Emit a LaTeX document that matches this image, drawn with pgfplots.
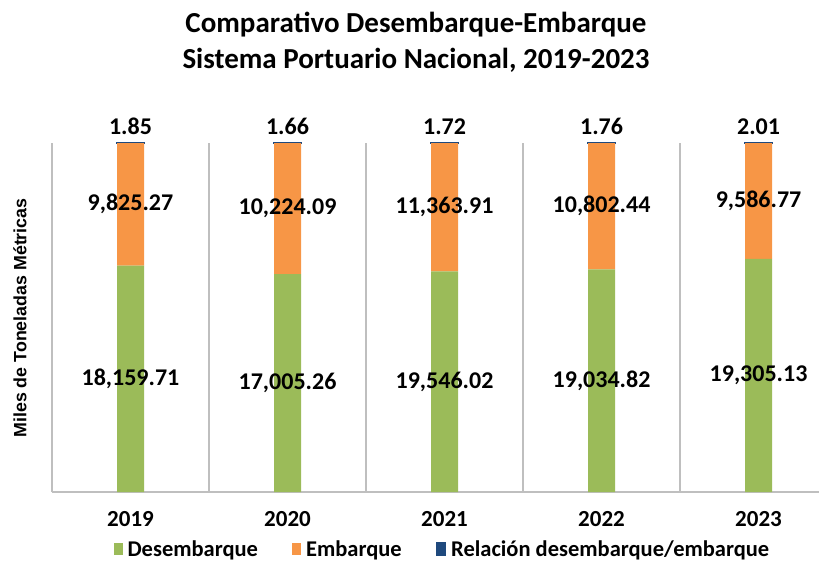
\documentclass[border=0pt]{standalone}
\usepackage{fontspec}
\setmainfont{Carlito}
\newfontfamily\arialfont{Liberation Sans}
\usepackage{pgfplots}
\usepackage{pgfplotstable}
\pgfplotsset{compat=1.18}
\definecolor{cdes}{HTML}{9BBB59}
\definecolor{cemb}{HTML}{F79646}
\definecolor{crel}{HTML}{1F497D}
\definecolor{cgrid}{HTML}{BFBFBF}

\pgfplotstableread{
x des emb rel ldes lemb lrel
0 18159.71 9825.27 1.85 18,159.71 9,825.27 1.85
1 17005.26 10224.09 1.66 17,005.26 10,224.09 1.66
2 19546.02 11363.91 1.72 19,546.02 11,363.91 1.72
3 19034.82 10802.44 1.76 19,034.82 10,802.44 1.76
4 19305.13 9586.77 2.01 19,305.13 9,586.77 2.01
}\datatable

\pgfplotsset{myax/.style={scale only axis, width=767pt, height=349pt,
  xmin=-0.5, xmax=4.385, ymin=0, ymax=100, at={(52pt,70pt)}, anchor=south west}}

\begin{document}
\begin{tikzpicture}
\useasboundingbox (0,0) rectangle (819pt,562pt);
\begin{axis}[myax, ybar stacked, bar width=27pt,
  axis x line*=bottom, axis y line*=left,
  axis line style={-, draw=cgrid, line width=1.5pt},
  ytick=\empty, xtick={0,1,2,3,4},
  xticklabels={2019,2020,2021,2022,2023},
  major tick length=0pt, minor tick length=0pt,
  minor xtick={0.5,1.5,2.5,3.5}, xminorgrids,
  minor x grid style={draw=cgrid, line width=1.5pt},
  xticklabel style={font=\bfseries\fontsize{23}{23}\selectfont, yshift=-16pt},
  legend columns=3,
  legend image code/.code={\fill[#1] (0pt,-6pt) rectangle (9pt,6pt);},
  legend style={draw=none, fill=none, at={(axis description cs:0.509,-0.163)}, anchor=center,
    font=\bfseries\fontsize{22.5}{23}\selectfont,
    /tikz/every odd column/.append style={column sep=3pt},
    /tikz/every even column/.append style={column sep=32pt}},
]
\addplot[fill=cdes, draw=none] table[x=x, y expr={\thisrow{des}/(\thisrow{des}+\thisrow{emb}+\thisrow{rel})*100}] {\datatable};
\addplot[fill=cemb, draw=none] table[x=x, y expr={\thisrow{emb}/(\thisrow{des}+\thisrow{emb}+\thisrow{rel})*100}] {\datatable};
\addplot[fill=crel, draw=crel, line width=1.5pt] table[x=x, y expr={\thisrow{rel}/(\thisrow{des}+\thisrow{emb}+\thisrow{rel})*100}] {\datatable};
\legend{Desembarque, Embarque, Relación desembarque/embarque}
\end{axis}
\begin{axis}[myax, hide axis, clip=false, nodes near coords, point meta=explicit symbolic,
  every node near coord/.append style={font=\bfseries\fontsize{24}{24}\selectfont, anchor=center, text=black}]
\addplot[draw=none, mark=none] table[x=x, y expr={\thisrow{des}/(\thisrow{des}+\thisrow{emb}+\thisrow{rel})*50}, meta=ldes] {\datatable};
\addplot[draw=none, mark=none] table[x=x, y expr={(\thisrow{des}+0.5*\thisrow{emb})/(\thisrow{des}+\thisrow{emb}+\thisrow{rel})*100}, meta=lemb] {\datatable};
\addplot[draw=none, mark=none, every node near coord/.append style={anchor=base, yshift=8pt}] table[x=x, y expr={100}, meta=lrel] {\datatable};
\end{axis}
\node[font=\bfseries\fontsize{29}{36}\selectfont, align=center] at (416pt,520pt)
  {Comparativo Desembarque-Embarque\\Sistema Portuario Nacional, 2019-2023};
\node[rotate=90, font=\arialfont\bfseries\fontsize{17.8}{18}\selectfont] at (20pt,244pt)
  {Miles de Toneladas Métricas};
\end{tikzpicture}
\end{document}
